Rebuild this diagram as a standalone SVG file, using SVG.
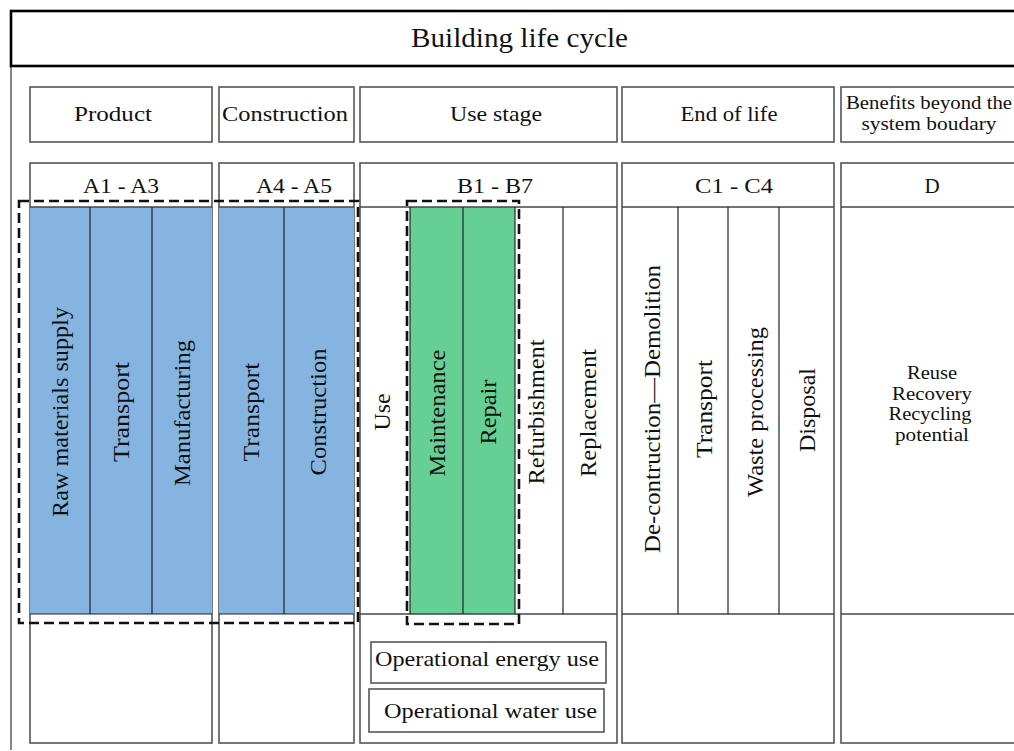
<svg xmlns="http://www.w3.org/2000/svg" width="1014" height="751" viewBox="0 0 1014 751">
<style>
.box{fill:#fff;stroke:#555;stroke-width:1.6}
.ln{stroke:#444;stroke-width:1.3;fill:none}
.dk{stroke:#222;stroke-width:1.2;fill:none}
.blue{fill:#85b4e0}
.green{fill:#66cf94}
.dash{fill:none;stroke:#111;stroke-width:2.6;stroke-dasharray:10 5}
text{font-family:"Liberation Serif","Times New Roman",serif;fill:#111;text-anchor:middle;dominant-baseline:central}
.t20{font-size:22px}
.t19{font-size:21px}
.t17{font-size:18px}
.r{font-size:23px}
</style>
<rect width="1014" height="751" fill="#fff"/>
<g id="title">
<line x1="11" y1="66" x2="11" y2="750" class="ln"/>
<rect x="11" y="11" width="1020" height="55" fill="#fff" stroke="#000" stroke-width="2.6"/>
<text x="519.5" y="38" style="font-size:27px" textLength="217" lengthAdjust="spacingAndGlyphs">Building life cycle</text>
</g>
<g id="headers">
<g id="h-product"><rect class="box" x="30" y="87" width="182" height="55"/><text class="t20" x="113" y="113" textLength="78" lengthAdjust="spacingAndGlyphs">Product</text></g>
<g id="h-construction"><rect class="box" x="219" y="87" width="135" height="55"/><text class="t20" x="285" y="113" textLength="126" lengthAdjust="spacingAndGlyphs">Construction</text></g>
<g id="h-use"><rect class="box" x="360" y="87" width="257" height="55"/><text class="t20" x="496" y="113" textLength="92" lengthAdjust="spacingAndGlyphs">Use stage</text></g>
<g id="h-end"><rect class="box" x="622" y="87" width="212" height="55"/><text class="t20" x="729" y="113" textLength="97" lengthAdjust="spacingAndGlyphs">End of life</text></g>
<g id="h-benefits"><rect class="box" x="841" y="87" width="190" height="55"/><text class="t17" x="929" y="103" textLength="166" lengthAdjust="spacingAndGlyphs">Benefits beyond the</text><text class="t17" x="929" y="124" textLength="135" lengthAdjust="spacingAndGlyphs">system boudary</text></g>
</g>
<g id="col-A1A3">
<rect class="box" x="30" y="163" width="182" height="580"/>
<rect class="blue" x="30" y="207" width="182" height="407"/>
<line class="ln" x1="30" y1="207" x2="212" y2="207"/>
<line class="dk" x1="30" y1="614" x2="212" y2="614"/>
<line class="dk" x1="90" y1="207" x2="90" y2="614"/>
<line class="dk" x1="152" y1="207" x2="152" y2="614"/>
<text class="t19" x="121" y="186" textLength="76" lengthAdjust="spacingAndGlyphs">A1 - A3</text>
<text class="r" transform="translate(60,412) rotate(-90)" textLength="210" lengthAdjust="spacingAndGlyphs">Raw materials supply</text>
<text class="r" transform="translate(121,412) rotate(-90)" textLength="100" lengthAdjust="spacingAndGlyphs">Transport</text>
<text class="r" transform="translate(182,413) rotate(-90)" textLength="146" lengthAdjust="spacingAndGlyphs">Manufacturing</text>
</g>
<g id="col-A4A5">
<rect class="box" x="219" y="163" width="135" height="580"/>
<rect class="blue" x="219" y="207" width="135" height="407"/>
<line class="ln" x1="219" y1="207" x2="354" y2="207"/>
<line class="dk" x1="219" y1="614" x2="354" y2="614"/>
<line class="dk" x1="284" y1="207" x2="284" y2="614"/>
<text class="t19" x="294" y="186" textLength="76" lengthAdjust="spacingAndGlyphs">A4 - A5</text>
<text class="r" transform="translate(251,412) rotate(-90)" textLength="99" lengthAdjust="spacingAndGlyphs">Transport</text>
<text class="r" transform="translate(318,412) rotate(-90)" textLength="127" lengthAdjust="spacingAndGlyphs">Construction</text>
</g>
<g id="col-B1B7">
<rect class="box" x="360" y="163" width="257" height="580"/>
<rect class="green" x="410" y="207" width="105" height="407"/>
<line class="ln" x1="360" y1="207" x2="617" y2="207"/>
<line class="ln" x1="360" y1="614" x2="617" y2="614"/>
<line class="dk" x1="410" y1="207" x2="410" y2="614"/>
<line class="dk" x1="463" y1="207" x2="463" y2="614"/>
<line class="dk" x1="515" y1="207" x2="515" y2="614"/>
<line class="dk" x1="563" y1="207" x2="563" y2="614"/>
<text class="t19" x="495" y="186" textLength="76" lengthAdjust="spacingAndGlyphs">B1 - B7</text>
<text class="r" transform="translate(382,412) rotate(-90)" textLength="37" lengthAdjust="spacingAndGlyphs">Use</text>
<text class="r" transform="translate(437,413) rotate(-90)" textLength="127" lengthAdjust="spacingAndGlyphs">Maintenance</text>
<text class="r" transform="translate(488,412) rotate(-90)" textLength="65" lengthAdjust="spacingAndGlyphs">Repair</text>
<text class="r" transform="translate(536,412) rotate(-90)" textLength="145" lengthAdjust="spacingAndGlyphs">Refurbishment</text>
<text class="r" transform="translate(588,413) rotate(-90)" textLength="128" lengthAdjust="spacingAndGlyphs">Replacement</text>
<g id="op-energy"><rect class="box" x="371" y="642" width="235" height="41"/><text class="t20" x="487" y="658" textLength="224" lengthAdjust="spacingAndGlyphs">Operational energy use</text></g>
<g id="op-water"><rect class="box" x="369" y="689" width="235" height="43"/><text class="t20" x="490.5" y="710" textLength="213" lengthAdjust="spacingAndGlyphs">Operational water use</text></g>
</g>
<g id="col-C1C4">
<rect class="box" x="622" y="163" width="212" height="580"/>
<line class="ln" x1="622" y1="207" x2="834" y2="207"/>
<line class="ln" x1="622" y1="614" x2="834" y2="614"/>
<line class="dk" x1="678" y1="207" x2="678" y2="614"/>
<line class="dk" x1="728" y1="207" x2="728" y2="614"/>
<line class="dk" x1="779" y1="207" x2="779" y2="614"/>
<text class="t19" x="734" y="186" textLength="78" lengthAdjust="spacingAndGlyphs">C1 - C4</text>
<text class="r" transform="translate(652,409) rotate(-90)" textLength="288" lengthAdjust="spacingAndGlyphs">De-contruction—Demolition</text>
<text class="r" transform="translate(704,409) rotate(-90)" textLength="98" lengthAdjust="spacingAndGlyphs">Transport</text>
<text class="r" transform="translate(755,412) rotate(-90)" textLength="170" lengthAdjust="spacingAndGlyphs">Waste processing</text>
<text class="r" transform="translate(807,410) rotate(-90)" textLength="84" lengthAdjust="spacingAndGlyphs">Disposal</text>
</g>
<g id="col-D">
<rect class="box" x="841" y="163" width="190" height="580"/>
<line class="ln" x1="841" y1="207" x2="1014" y2="207"/>
<line class="ln" x1="841" y1="614" x2="1014" y2="614"/>
<text class="t19" x="932" y="186">D</text>
<text class="t17" x="932" y="372" style="font-size:19px" textLength="50" lengthAdjust="spacingAndGlyphs">Reuse</text>
<text class="t17" x="932" y="393" style="font-size:19px" textLength="80" lengthAdjust="spacingAndGlyphs">Recovery</text>
<text class="t17" x="930" y="413" style="font-size:19px" textLength="83" lengthAdjust="spacingAndGlyphs">Recycling</text>
<text class="t17" x="932" y="434" style="font-size:19px" textLength="74" lengthAdjust="spacingAndGlyphs">potential</text>
</g>
<g id="boundaries">
<rect class="dash" x="19" y="201" width="339" height="422"/>
<rect class="dash" x="407" y="201" width="112" height="423"/>
</g>
</svg>
